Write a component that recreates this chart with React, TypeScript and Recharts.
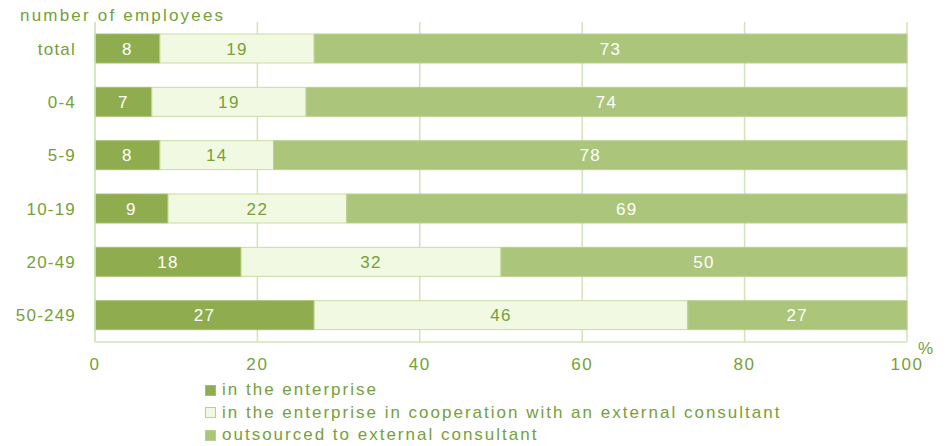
import { BarChart, Bar, XAxis, YAxis, CartesianGrid, LabelList } from 'recharts'

const categories = ['total', '0-4', '5-9', '10-19', '20-49', '50-249']
const inEnterprise = [8, 7, 8, 9, 18, 27]
const withConsultant = [19, 19, 14, 22, 32, 46]
const outsourced = [73, 74, 78, 69, 50, 27]
const xTicks = [0, 20, 40, 60, 80, 100]

const seriesNames = [
  'in the enterprise',
  'in the enterprise in cooperation with an external consultant',
  'outsourced to external consultant',
]

const DARK = '#8fad4f'
const LIGHT = '#f2f9e2'
const MID = '#abc57a'
const TEXT = '#76a03a'
const GRID = '#d3e4b8'
const FONT = '"Liberation Sans", Arial, sans-serif'
const LS = 1.6

const data = categories.map((c, i) => ({
  name: c,
  a: inEnterprise[i],
  b: withConsultant[i],
  c: outsourced[i],
}))

const labelStyle = { fontSize: 17, fontFamily: FONT, letterSpacing: 1.4 }

export default function App() {
  return (
    <div style={{ position: 'absolute', left: 0, top: 0, width: 946, height: 446, background: '#fff', fontFamily: FONT }}>
      <div style={{ position: 'absolute', left: 20, top: 6, fontSize: 17, color: TEXT, letterSpacing: 2.2 }}>
        number of employees
      </div>
      <BarChart
        width={946}
        height={446}
        data={data}
        layout="vertical"
        margin={{ top: 22, right: 39, bottom: 74, left: 0 }}
        barCategoryGap={12}
      >
        <CartesianGrid horizontal={false} stroke={GRID} strokeWidth={1.5} />
        <XAxis
          type="number"
          domain={[0, 100]}
          ticks={xTicks}
          tickLine={false}
          axisLine={{ stroke: GRID, strokeWidth: 1.5 }}
          tick={{ fill: TEXT, fontSize: 17, fontFamily: FONT, letterSpacing: LS }}
          tickMargin={10}
          height={30}
        />
        <YAxis
          type="category"
          dataKey="name"
          width={95}
          tickLine={false}
          tickSize={0}
          tickMargin={19}
          axisLine={{ stroke: GRID, strokeWidth: 1.5 }}
          tick={{ fill: TEXT, fontSize: 17, fontFamily: FONT, letterSpacing: 1.2 }}
        />
        <Bar dataKey="a" stackId="s" fill={DARK} stroke="#a3bf6e" isAnimationActive={false}>
          <LabelList dataKey="a" position="center" fill="#ffffff" {...labelStyle} />
        </Bar>
        <Bar dataKey="b" stackId="s" fill={LIGHT} stroke="#c7dca2" isAnimationActive={false}>
          <LabelList dataKey="b" position="center" fill={TEXT} {...labelStyle} />
        </Bar>
        <Bar dataKey="c" stackId="s" fill={MID} stroke="#b9d18e" isAnimationActive={false}>
          <LabelList dataKey="c" position="center" fill="#ffffff" {...labelStyle} />
        </Bar>
      </BarChart>
      <div style={{ position: 'absolute', left: 918, top: 339, fontSize: 17, color: TEXT }}>%</div>
      <div style={{ position: 'absolute', left: 205, top: 379, fontSize: 17, color: TEXT, letterSpacing: 2 }}>
        {seriesNames.map((n, i) => (
          <div key={n} style={{ display: 'flex', alignItems: 'center', height: 22.5 }}>
            <span
              style={{
                display: 'inline-block',
                width: 9,
                height: 9,
                marginRight: 6,
                background: [DARK, LIGHT, MID][i],
                border: `1px solid ${['#a3bf6e', '#b9d18e', '#b9d18e'][i]}`,
              }}
            />
            {n}
          </div>
        ))}
      </div>
    </div>
  )
}
